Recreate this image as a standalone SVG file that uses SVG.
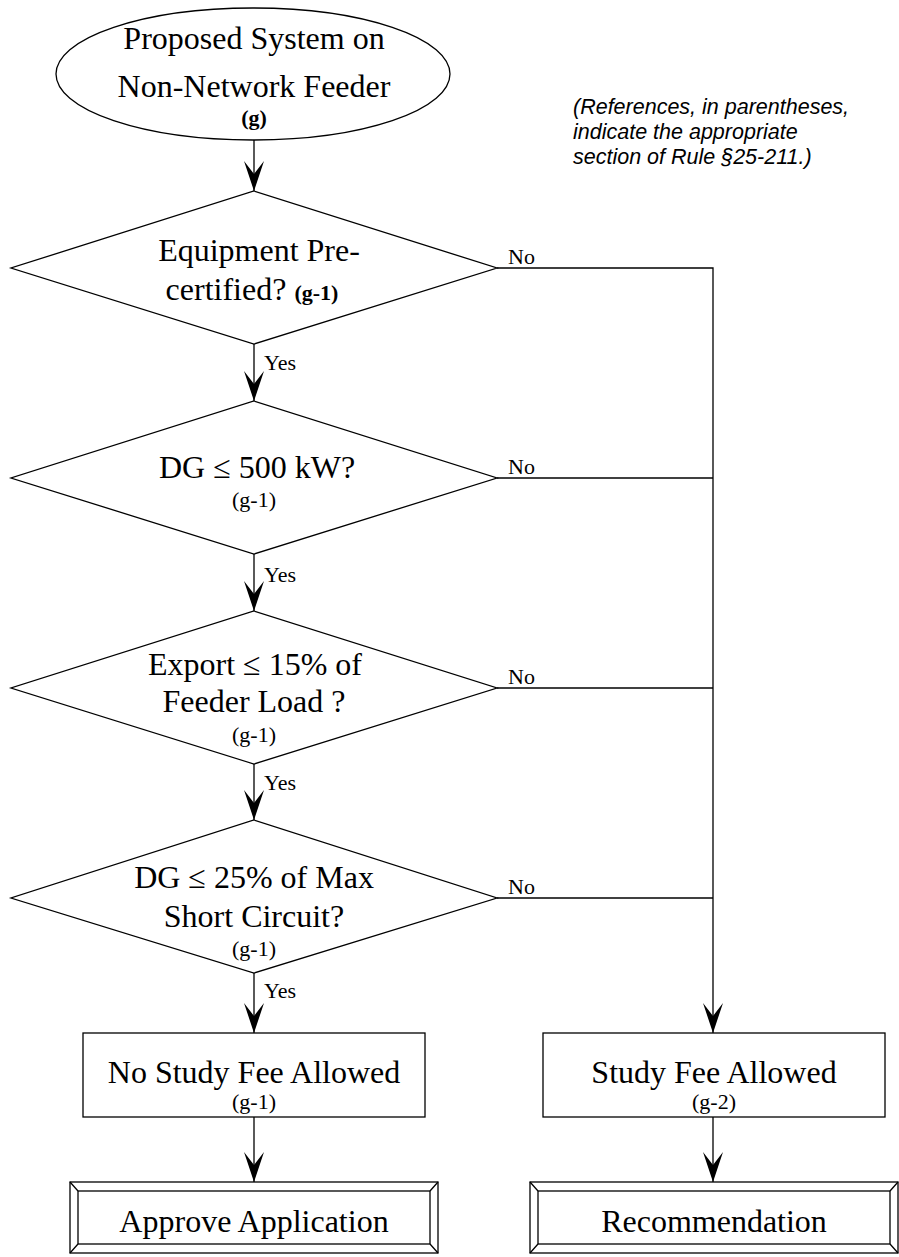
<svg xmlns="http://www.w3.org/2000/svg" width="899" height="1257" viewBox="0 0 899 1257">
<style>
.s{fill:#fff;stroke:#000;stroke-width:1.3}
.t{font-family:"Liberation Serif","Times New Roman",serif;fill:#000;text-anchor:middle}
.m{font-size:32px}
.sm{font-size:22px}
.lb{font-family:"Liberation Serif","Times New Roman",serif;font-size:22px;fill:#000}
.c{fill:none;stroke:#000;stroke-width:1.3}
.note{font-family:"Liberation Sans",Arial,sans-serif;font-style:italic;font-size:21.5px;fill:#000}
</style>
<defs>
<marker id="ah" viewBox="-31 -11 32 22" markerWidth="32" markerHeight="22" refX="0" refY="0" orient="auto" markerUnits="userSpaceOnUse">
<path d="M0,0 L-30,-10 L-17,0 L-30,10 Z" fill="#000"/>
</marker>
</defs>
<g id="connectors">
<line class="c" x1="254" y1="140" x2="254" y2="191" marker-end="url(#ah)"/>
<line class="c" x1="254" y1="344" x2="254" y2="401" marker-end="url(#ah)"/>
<line class="c" x1="254" y1="554" x2="254" y2="611" marker-end="url(#ah)"/>
<line class="c" x1="254" y1="764" x2="254" y2="820" marker-end="url(#ah)"/>
<line class="c" x1="254" y1="973" x2="254" y2="1033" marker-end="url(#ah)"/>
<line class="c" x1="254" y1="1117" x2="254" y2="1182" marker-end="url(#ah)"/>
<polyline class="c" points="497,268 713,268 713,1033" marker-end="url(#ah)"/>
<line class="c" x1="497" y1="478" x2="713" y2="478"/>
<line class="c" x1="497" y1="688" x2="713" y2="688"/>
<line class="c" x1="497" y1="898" x2="713" y2="898"/>
<line class="c" x1="713" y1="1117" x2="713" y2="1182" marker-end="url(#ah)"/>
<text class="lb" x="508" y="264">No</text>
<text class="lb" x="508" y="474">No</text>
<text class="lb" x="508" y="684">No</text>
<text class="lb" x="508" y="894">No</text>
<text class="lb" x="264" y="370">Yes</text>
<text class="lb" x="264" y="582">Yes</text>
<text class="lb" x="264" y="790">Yes</text>
<text class="lb" x="264" y="998">Yes</text>
</g>
<g id="start">
<ellipse class="s" cx="253" cy="74" rx="197" ry="66"/>
<text class="t m" x="254" y="49">Proposed System on</text>
<text class="t m" x="254" y="97">Non-Network Feeder</text>
<text class="t sm" x="254" y="125" font-weight="bold">(g)</text>
</g>
<g id="note">
<text class="note" x="573" y="114">(References, in parentheses,</text>
<text class="note" x="573" y="139">indicate the appropriate</text>
<text class="note" x="573" y="164">section of Rule §25-211.)</text>
</g>
<g id="d1">
<polygon class="s" points="254,191 497,268 254,344 11,268"/>
<text class="t m" x="259" y="261">Equipment Pre-</text>
<text class="t m" x="252" y="300">certified? <tspan class="sm" font-weight="bold">(g-1)</tspan></text>
</g>
<g id="d2">
<polygon class="s" points="254,401 497,478 254,554 11,478"/>
<text class="t m" x="257" y="478">DG ≤ 500 kW?</text>
<text class="t sm" x="254" y="507">(g-1)</text>
</g>
<g id="d3">
<polygon class="s" points="254,611 497,688 254,764 11,688"/>
<text class="t m" x="255" y="675">Export ≤ 15% of</text>
<text class="t m" x="254" y="712">Feeder Load ?</text>
<text class="t sm" x="254" y="742">(g-1)</text>
</g>
<g id="d4">
<polygon class="s" points="254,820 497,898 254,973 11,898"/>
<text class="t m" x="254" y="888">DG ≤ 25% of Max</text>
<text class="t m" x="254" y="927">Short Circuit?</text>
<text class="t sm" x="254" y="956">(g-1)</text>
</g>
<g id="noFee">
<rect class="s" x="83" y="1033" width="342" height="84"/>
<text class="t m" x="254" y="1083">No Study Fee Allowed</text>
<text class="t sm" x="254" y="1109">(g-1)</text>
</g>
<g id="fee">
<rect class="s" x="543" y="1033" width="342" height="84"/>
<text class="t m" x="714" y="1083">Study Fee Allowed</text>
<text class="t sm" x="714" y="1109">(g-2)</text>
</g>
<g id="approve">
<rect class="s" x="70" y="1182" width="368" height="71"/>
<rect class="s" x="78" y="1191" width="352" height="53"/>
<path class="c" d="M70,1182 L78,1191 M438,1182 L430,1191 M70,1253 L78,1244 M438,1253 L430,1244"/>
<text class="t m" x="254" y="1232">Approve Application</text>
</g>
<g id="recommend">
<rect class="s" x="530" y="1182" width="368" height="71"/>
<rect class="s" x="538" y="1191" width="352" height="53"/>
<path class="c" d="M530,1182 L538,1191 M898,1182 L890,1191 M530,1253 L538,1244 M898,1253 L890,1244"/>
<text class="t m" x="714" y="1232">Recommendation</text>
</g>
</svg>
